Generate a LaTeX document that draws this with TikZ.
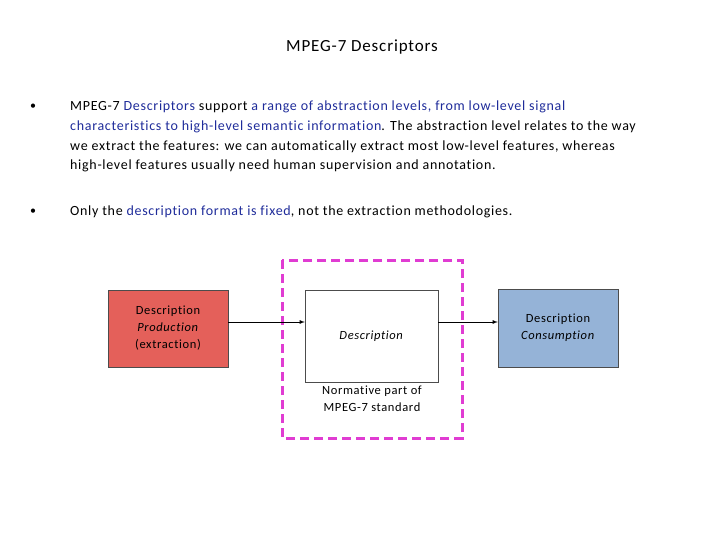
\documentclass[tikz,border=0pt]{standalone}
\usepackage{fontspec}
\setmainfont[LetterSpace=5,Ligatures=NoCommon]{Carlito}
\begin{document}
\begin{tikzpicture}[x=1pt,y=-1pt,
  txt/.style={anchor=west,inner sep=0pt,font=\fontsize{14}{16}\selectfont},
  boxsty/.style={draw=black!70,inner sep=0pt,align=center,font=\fontsize{12.5}{17}\selectfont},
  arr/.style={-latex,thick}]
\definecolor{dblue}{HTML}{1F2C9A}
\definecolor{mag}{HTML}{E03CD2}
\useasboundingbox (0,0) rectangle (720,540);
\node (title) at (362,47) {\fontsize{17}{19}\selectfont MPEG-7 Descriptors};
\node (b1) at (33,107) {\fontsize{12}{14}\selectfont •};
\node[txt] (l1) at (70,107) {MPEG-7 \textcolor{dblue}{Descriptors} support \textcolor{dblue}{a range of abstraction levels, from low-level signal}};
\node[txt] (l2) at (70,127) {\textcolor{dblue}{characteristics to high-level semantic information}. The abstraction level relates to the way};
\node[txt] (l3) at (70,147) {we extract the features: we can automatically extract most low-level features, whereas};
\node[txt] (l4) at (70,166) {high-level features usually need human supervision and annotation.};
\node (b2) at (33,212) {\fontsize{12}{14}\selectfont •};
\node[txt] (l5) at (70,212) {Only the \textcolor{dblue}{description format is fixed}, not the extraction methodologies.};
\draw[mag,line width=3pt,dash pattern=on 9pt off 5pt] (282,260) rectangle (462,438);
\node[boxsty,fill={rgb,255:red,228;green,96;blue,90},minimum width=120pt,minimum height=77pt] (prod) at (168,328.5) {Description\\\textit{Production}\\(extraction)};
\node[boxsty,fill=white,minimum width=133pt,minimum height=92pt] (desc) at (371.5,336) {\textit{Description}};
\node[boxsty,fill={rgb,255:red,149;green,179;blue,215},minimum width=120pt,minimum height=78pt] (cons) at (558,328) {Description\\\textit{Consumption}};
\node[align=center,font=\fontsize{12.5}{17}\selectfont] (norm) at (372,399) {Normative part of\\MPEG-7 standard};
\draw[arr] (prod.east |- 0,322) -- (desc.west |- 0,322);
\draw[arr] (desc.east |- 0,322) -- (cons.west |- 0,322);
\end{tikzpicture}
\end{document}
